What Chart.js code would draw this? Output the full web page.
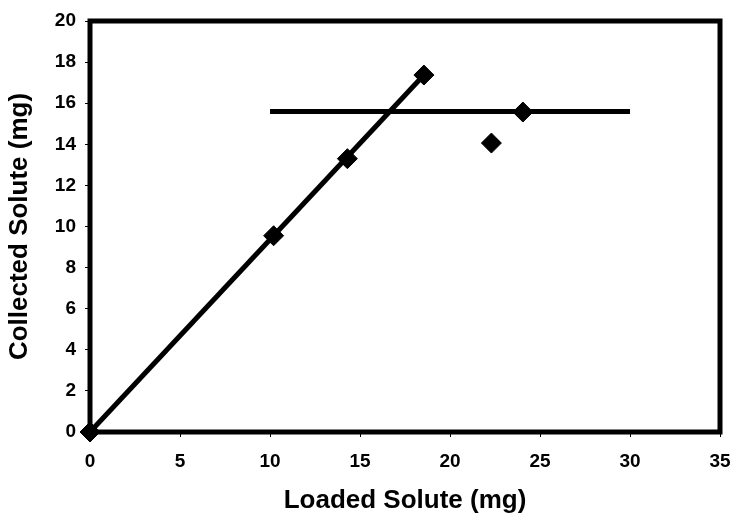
<!DOCTYPE html>
<html>
<head>
<meta charset="utf-8">
<script src="https://cdn.jsdelivr.net/npm/chart.js@4"></script>
<style>
  html, body { margin: 0; padding: 0; background: #fff; }
  #wrap { width: 734px; height: 520px; }
</style>
</head>
<body>
<div id="wrap"><canvas id="chart"></canvas></div>
<script>
// measured points (mg)
const loaded = [0, 10.2, 14.3, 18.55, 22.3, 24.05];
const collected = [0, 9.55, 13.3, 17.37, 14.06, 15.57];

// straight line through origin to the last linear point
const fitX = [0, 18.55];
const fitY = [0, 17.37];

// plateau line
const plateauX = [10, 30];
const plateauY = [15.6, 15.6];

const FONT = "'Liberation Sans', Arial, sans-serif";
const INK = "#000";

const toXY = (xs, ys) => xs.map((x, i) => ({ x, y: ys[i] }));

// thick frame round the plot area
const frame = {
  id: "frame",
  beforeDatasetsDraw(chart) {
    const { ctx, chartArea: a } = chart;
    ctx.save();
    ctx.strokeStyle = INK;
    ctx.lineWidth = 5;
    ctx.strokeRect(a.left, a.top, a.right - a.left, a.bottom - a.top);
    ctx.restore();
  },
};

new Chart(document.getElementById("chart"), {
  type: "scatter",
  data: {
    datasets: [
      {
        data: toXY(fitX, fitY),
        showLine: true,
        borderColor: INK,
        borderWidth: 5,
        pointRadius: 0,
        clip: false,
      },
      {
        data: toXY(plateauX, plateauY),
        showLine: true,
        borderColor: INK,
        borderWidth: 5,
        pointRadius: 0,
        clip: false,
      },
      {
        data: toXY(loaded, collected),
        pointStyle: "rectRot",
        pointRadius: 10,
        pointBackgroundColor: INK,
        pointBorderColor: INK,
        pointBorderWidth: 1,
        clip: false,
      },
    ],
  },
  options: {
    responsive: true,
    maintainAspectRatio: false,
    animation: false,
    layout: { padding: { top: 21, right: 14, left: 0, bottom: 0 } },
    plugins: { legend: { display: false }, tooltip: { enabled: false } },
    scales: {
      x: {
        min: 0, max: 35,
        afterFit: (s) => { s.height = 88; s.paddingLeft = 0; s.paddingRight = 0; },
        border: { display: false },
        grid: { drawOnChartArea: false, drawTicks: true, tickLength: 5, color: INK, lineWidth: 1 },
        ticks: { stepSize: 5, color: INK, padding: 13, font: { family: FONT, size: 19, weight: "bold" } },
        title: {
          display: true, text: "Loaded Solute (mg)", color: INK,
          font: { family: FONT, size: 26, weight: "bold" }, padding: { top: 0, bottom: 4 },
        },
      },
      y: {
        min: 0, max: 20,
        afterFit: (s) => { s.width = 90; },
        border: { display: false },
        grid: { drawOnChartArea: false, drawTicks: true, tickLength: 5, color: INK, lineWidth: 1 },
        ticks: { stepSize: 2, color: INK, padding: 9, font: { family: FONT, size: 19, weight: "bold" } },
        title: {
          display: true, text: "Collected Solute (mg)", color: INK,
          font: { family: FONT, size: 26, weight: "bold" }, padding: { top: 4, bottom: 0 },
        },
      },
    },
  },
  plugins: [frame],
});
</script>
</body>
</html>
